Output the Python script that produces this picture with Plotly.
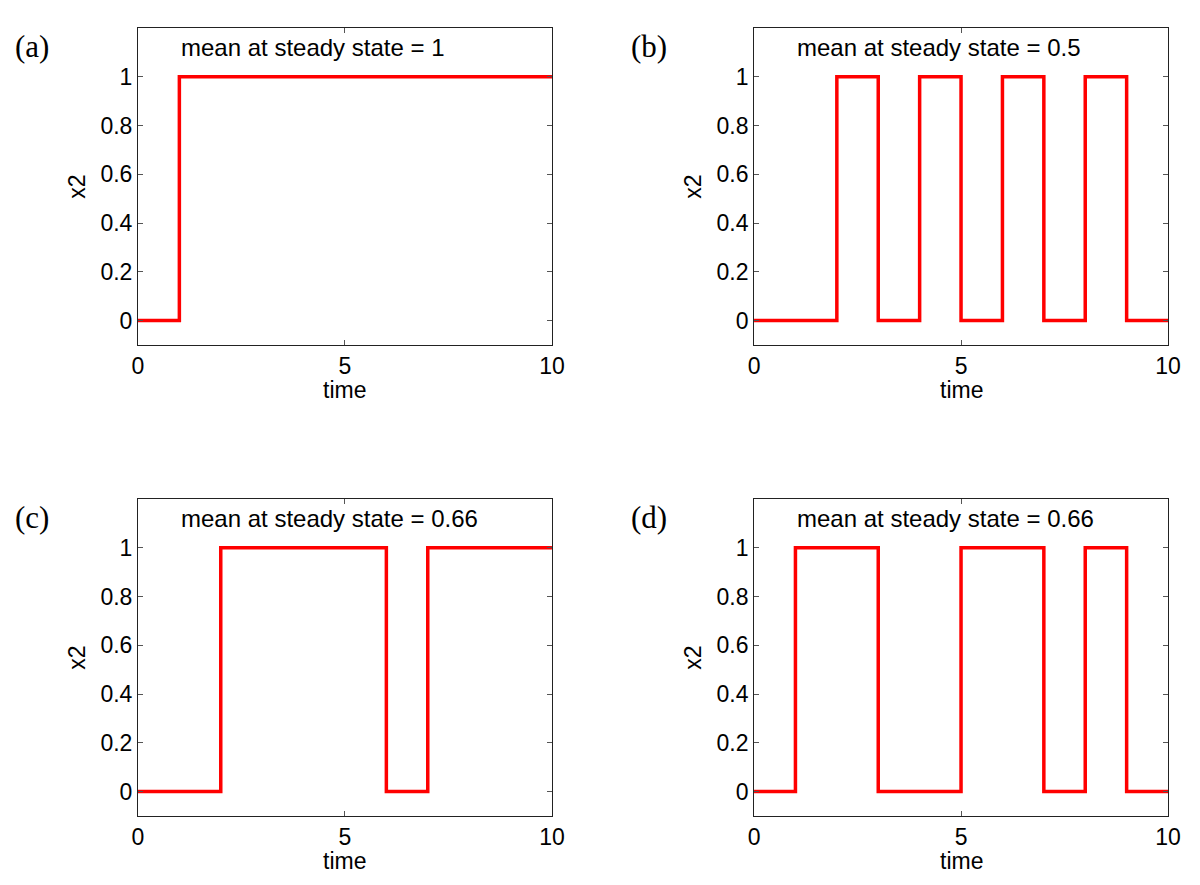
import plotly.graph_objects as go

time_a = [0, 1, 10]
x2_a = [0, 1, 1]
time_b = [0, 2, 3, 4, 5, 6, 7, 8, 9, 10]
x2_b = [0, 1, 0, 1, 0, 1, 0, 1, 0, 0]
time_c = [0, 2, 6, 7, 10]
x2_c = [0, 1, 0, 1, 1]
time_d = [0, 1, 3, 5, 7, 8, 9, 10]
x2_d = [0, 1, 0, 1, 0, 1, 0, 0]
panel_labels = ["(a)", "(b)", "(c)", "(d)"]
means = ["mean at steady state = 1", "mean at steady state = 0.5",
         "mean at steady state = 0.66", "mean at steady state = 0.66"]
x_ticks = [0, 5, 10]
y_ticks = [0, 0.2, 0.4, 0.6, 0.8, 1]

series = [(time_a, x2_a), (time_b, x2_b), (time_c, x2_c), (time_d, x2_d)]
xdoms = [[0.1083, 0.4533], [0.6217, 0.9667], [0.1083, 0.4533], [0.6217, 0.9667]]
ydoms = [[0.6192, 0.9774], [0.6192, 0.9774], [0.0870, 0.4452], [0.0870, 0.4452]]

fig = go.Figure()
font = "Liberation Sans, Arial, sans-serif"
annotations = []
for i, (t, v) in enumerate(series):
    n = "" if i == 0 else str(i + 1)
    fig.add_trace(go.Scatter(x=t, y=v, mode="lines", line_shape="hv",
                             line=dict(color="#ff0000", width=3.5),
                             xaxis="x" + n, yaxis="y" + n, showlegend=False))
    axstyle = dict(showline=True, linecolor="#222", linewidth=1, mirror="ticks",
                   ticks="inside", ticklen=5, tickcolor="#555", showgrid=False,
                   zeroline=False, automargin=False,
                   tickfont=dict(family=font, size=23, color="#000"))
    fig.layout["xaxis" + n] = dict(domain=xdoms[i], range=[0, 10], tickvals=x_ticks,
                                    anchor="y" + n, **axstyle)
    fig.layout["yaxis" + n] = dict(domain=ydoms[i], range=[-0.1, 1.2], tickvals=y_ticks,
                                    ticktext=["0", "0.2", "0.4", "0.6", "0.8", "1"],
                                    anchor="x" + n,
                                    title=dict(text="x2", standoff=8,
                                               font=dict(family=font, size=23, color="#000")),
                                    **axstyle)
    annotations.append(dict(x=(xdoms[i][0] + xdoms[i][1]) / 2, y=ydoms[i][0],
                            xref="paper", yref="paper", text="time", showarrow=False,
                            xanchor="center", yanchor="middle", yshift=-45,
                            font=dict(family=font, size=23, color="#000")))
    annotations.append(dict(x=1, y=1.12, xref="x" + n, yref="y" + n, text=means[i],
                            showarrow=False, xanchor="left", yanchor="middle",
                            font=dict(family=font, size=24, color="#000")))
    lx = 0.004 if i % 2 == 0 else 0.5173
    ly = ydoms[i][1] - 0.021
    annotations.append(dict(x=lx, y=ly, xref="paper", yref="paper", text=panel_labels[i],
                            showarrow=False, xanchor="left", yanchor="middle",
                            font=dict(family="Liberation Serif, serif", size=31, color="#000")))

fig.update_layout(width=1200, height=885, margin=dict(l=0, r=0, t=0, b=0),
                  plot_bgcolor="white", paper_bgcolor="white", annotations=annotations)
fig.write_html("out.html")
